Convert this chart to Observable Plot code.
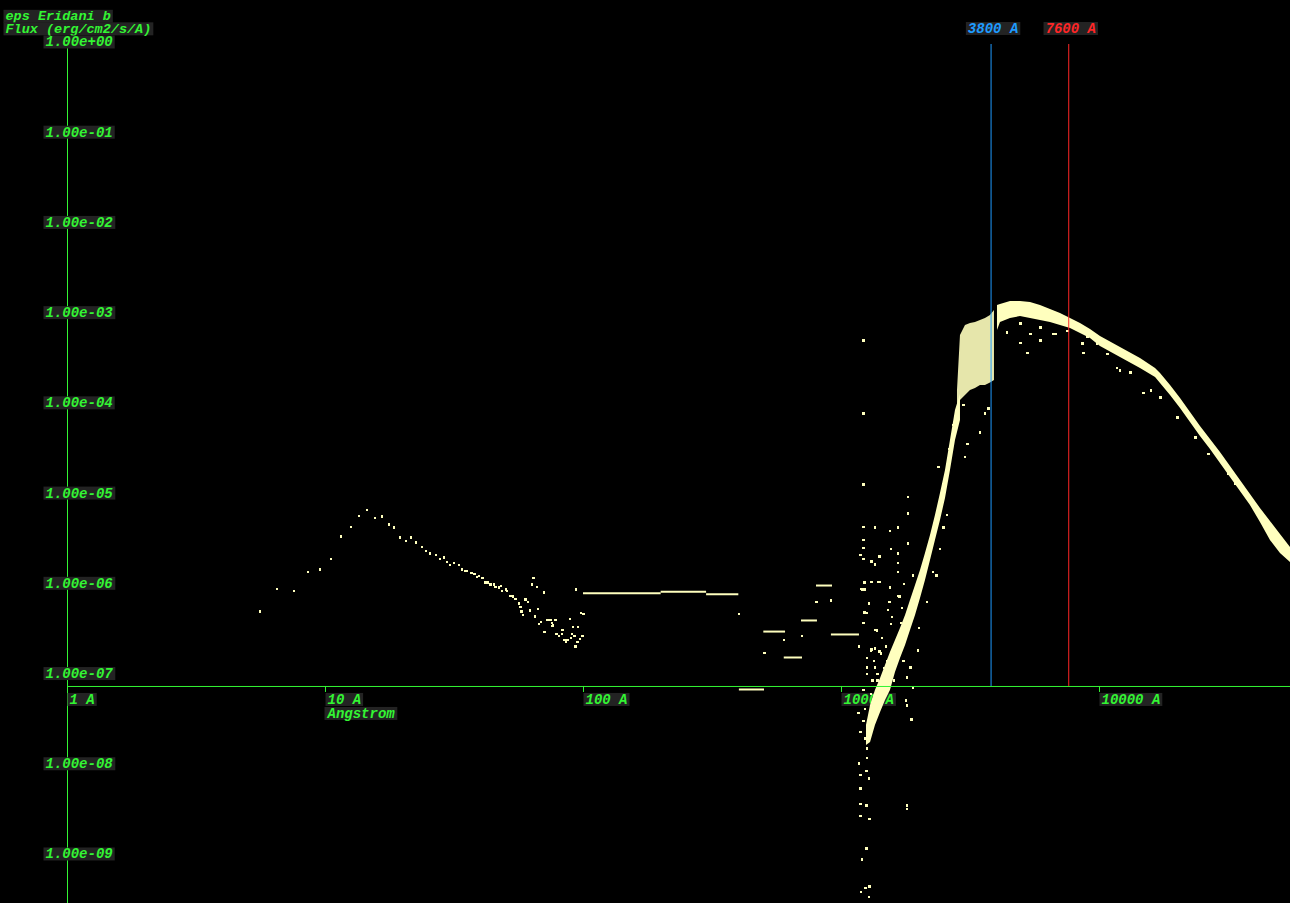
<!DOCTYPE html>
<html>
<head>
<meta charset="utf-8">
<script src="https://cdn.jsdelivr.net/npm/d3@7"></script>
<script src="https://cdn.jsdelivr.net/npm/@observablehq/plot@0.6"></script>
<style>
  html, body { margin: 0; padding: 0; background: #000; overflow: hidden; }
  #chart svg { display: block; }
</style>
</head>
<body>
<div id="chart"></div>
<script>
// ---------- text ----------
const titleLine1 = "eps Eridani b";
const titleLine2 = "Flux (erg/cm2/s/A)";
const xAxisTitle = "Angstrom";
const yTickValues = [1, 1e-1, 1e-2, 1e-3, 1e-4, 1e-5, 1e-6, 1e-7, 1e-8, 1e-9];
const yTickLabels = ["1.00e+00", "1.00e-01", "1.00e-02", "1.00e-03", "1.00e-04", "1.00e-05", "1.00e-06", "1.00e-07", "1.00e-08", "1.00e-09"];
const xTickValues = [1, 10, 100, 1000, 10000];
const xTickLabels = ["1 A", "10 A", "100 A", "1000 A", "10000 A"];
const markerWaves = [3800, 7600];
const markerLabels = ["3800 A", "7600 A"];
const xAxisFlux = 6.92e-8;      // flux level where the wavelength axis crosses

// ---------- data: [wavelength (A), flux (erg/cm2/s/A)] ----------
const euvPoints = [
  [5.55, 4.69e-7], [6.51, 8.43e-7], [7.52, 8.01e-7], [8.52, 1.27e-6], [9.56, 1.37e-6],
  [10.5, 1.81e-6], [11.5, 3.18e-6], [12.6, 4.10e-6], [13.5, 5.43e-6], [14.5, 6.18e-6],
  [15.6, 5.16e-6], [16.6, 5.30e-6], [17.6, 4.32e-6], [18.5, 4.00e-6], [19.5, 3.10e-6],
  [20.6, 2.87e-6], [21.5, 3.10e-6], [22.5, 2.73e-6], [23.6, 2.46e-6], [24.6, 2.22e-6],
  [25.5, 2.06e-6], [26.7, 1.96e-6], [27.7, 1.81e-6], [28.7, 1.86e-6], [29.7, 1.64e-6],
  [30.5, 1.52e-6], [31.6, 1.60e-6], [32.8, 1.52e-6], [33.7, 1.37e-6], [34.6, 1.33e-6],
  [35.5, 1.33e-6], [36.8, 1.24e-6], [37.8, 1.21e-6], [38.8, 1.12e-6], [39.5, 1.15e-6],
  [40.6, 1.09e-6], [41.7, 9.83e-7], [42.8, 9.83e-7], [43.6, 9.34e-7], [44.8, 9.34e-7],
  [45.6, 8.87e-7], [46.9, 8.65e-7], [47.7, 9.10e-7], [48.5, 7.82e-7], [49.9, 8.22e-7],
  [50.7, 8.01e-7], [51.7, 7.05e-7], [52.6, 7.05e-7], [53.5, 6.88e-7], [54.5, 6.53e-7],
  [56.0, 5.75e-7], [57.0, 5.32e-7], [57.5, 4.69e-7], [58.5, 4.24e-7], [59.6, 6.37e-7],
  [60.7, 6.05e-7], [61.8, 4.81e-7], [62.9, 9.34e-7], [64.0, 1.09e-6], [64.6, 4.13e-7],
  [65.8, 8.87e-7], [66.9, 5.06e-7], [67.5, 3.37e-7], [68.7, 3.63e-7], [70.0, 7.62e-7],
  [70.6, 2.81e-7], [71.9, 3.73e-7], [73.2, 3.73e-7], [74.5, 3.73e-7], [75.8, 3.54e-7],
  [75.2, 3.20e-7], [76.5, 3.28e-7], [77.9, 3.82e-7], [78.6, 2.61e-7], [80.7, 2.48e-7],
  [82.2, 2.61e-7], [82.9, 2.89e-7], [84.4, 2.24e-7], [85.9, 2.18e-7], [86.7, 2.24e-7],
  [88.3, 3.92e-7], [89.1, 2.41e-7], [89.9, 2.61e-7], [90.7, 3.12e-7], [92.3, 2.48e-7],
  [93.1, 1.92e-7], [93.9, 8.22e-7], [94.8, 2.18e-7], [95.6, 3.12e-7], [97.3, 2.30e-7],
  [98.2, 4.46e-7], [99.1, 2.48e-7], [100, 4.35e-7],
  [402, 4.35e-7], [503, 1.61e-7], [601, 2.24e-7], [700, 2.48e-7], [800, 6.05e-7], [914, 6.21e-7]
];

// binned spectrum: [wavelength from, wavelength to, flux]
const binnedSegments = [
  [100, 200, 7.48e-7], [200, 300, 7.75e-7], [300, 400, 7.29e-7], [402, 503, 6.41e-8],
  [500, 607, 2.81e-7], [600, 706, 1.45e-7], [700, 807, 3.73e-7], [800, 923, 9.10e-7],
  [914, 1174, 2.61e-7]
];

const fuvPoints = [
  [1217, 4.73e-4], [1217, 7.34e-5], [1217, 1.199e-5], [1217, 4.10e-6], [1343, 4.00e-6],
  [1548, 3.70e-6], [1649, 4.00e-6], [1818, 8.82e-6], [1818, 5.72e-6], [1818, 2.66e-6],
  [1217, 2.94e-6], [1217, 2.40e-6], [1562, 2.34e-6], [1185, 1.96e-6], [1217, 1.81e-6],
  [1307, 1.68e-6], [1343, 1.556e-6], [1404, 1.908e-6], [1663, 2.06e-6], [1663, 1.637e-6],
  [1649, 1.301e-6], [1901, 1.175e-6], [1228, 9.83e-7], [1307, 1.008e-6], [1404, 1.008e-6],
  [1195, 8.43e-7], [1228, 8.22e-7], [1548, 8.65e-7], [1663, 7.05e-7], [1273, 5.75e-7],
  [1535, 6.05e-7], [1723, 5.19e-7], [1228, 4.57e-7], [1521, 4.93e-7], [1250, 4.46e-7],
  [1217, 3.54e-7], [1562, 3.37e-7], [1708, 3.54e-7], [1367, 2.887e-7], [1174, 1.919e-7],
  [1307, 1.778e-7], [1343, 1.824e-7], [1404, 1.689e-7], [1494, 1.919e-7], [1649, 1.969e-7],
  [1206, 8.22e-7], [1391, 1.008e-6], [1678, 6.88e-7], [1261, 1.449e-7], [1343, 1.123e-7],
  [1261, 9.63e-8], [1379, 8.06e-8], [1296, 5.78e-8], [1217, 6.25e-8], [1771, 4.84e-8],
  [1802, 4.26e-8], [1164, 3.56e-8], [1217, 2.90e-8], [1185, 2.14e-8], [1239, 1.834e-8],
  [1261, 1.421e-8], [1261, 1.129e-8], [1174, 9.69e-9], [1250, 8.10e-9], [1185, 7.14e-9],
  [1273, 6.61e-9], [1185, 5.12e-9], [1185, 3.49e-9], [1250, 3.32e-9], [1185, 2.51e-9],
  [1284, 2.38e-9], [1802, 3.32e-9], [1802, 3.07e-9], [1868, 2.98e-8], [1250, 1.107e-9],
  [1206, 8.36e-10], [1239, 4.09e-10], [1284, 4.20e-10], [1195, 3.69e-10], [1273, 3.25e-10],
  [1296, 1.733e-7], [1417, 1.605e-7], [1508, 1.342e-7], [1591, 1.123e-7], [1331, 1.342e-7],
  [1261, 1.123e-7], [1379, 9.63e-8], [1508, 8.70e-8], [1591, 8.06e-8], [1417, 6.74e-8],
  [1319, 8.06e-8], [1802, 8.70e-8], [1851, 1.123e-7], [1739, 1.342e-7], [1901, 6.74e-8],
  [1971, 1.733e-7], [2377, 1.897e-5], [2485, 4.00e-6], [2335, 1.175e-6],
  [2971, 9.01e-5], [3079, 3.41e-5], [3024, 2.39e-5], [3614, 7.34e-5], [3457, 4.52e-5], [3714, 8.34e-5],
  [1230, 3.9e-8], [1280, 2.2e-8], [1330, 4.6e-8], [1350, 2.9e-7], [1440, 2.4e-7],
  [1460, 1.1e-7], [1570, 4.1e-7], [1600, 1.5e-7], [1750, 9.5e-7], [1700, 2.6e-7],
  [2000, 3.1e-7], [2150, 6.0e-7], [2260, 1.3e-6], [2400, 2.3e-6], [2560, 5.5e-6],
  [2600, 3.0e-5], [2700, 5.5e-5], [2480, 1.2e-5]
];

// dense photospheric band: [wavelength, flux low, flux high]
const riseBand = [
  [1250, 1.534e-8, 2.555e-8], [1296, 1.656e-8, 4.26e-8], [1354, 2.555e-8, 6.25e-8],
  [1417, 3.56e-8, 8.49e-8], [1481, 4.84e-8, 1.181e-7], [1548, 6.25e-8, 1.647e-7],
  [1619, 9.88e-8, 2.237e-7], [1693, 1.413e-7, 3.04e-7], [1771, 1.969e-7, 4.23e-7],
  [1851, 2.887e-7, 6.21e-7], [1936, 4.23e-7, 9.10e-7], [2024, 6.53e-7, 1.335e-6],
  [2116, 1.034e-6, 2.06e-6], [2213, 1.722e-6, 3.26e-6], [2313, 2.87e-6, 5.43e-6],
  [2419, 4.78e-6, 9.53e-6], [2530, 8.39e-6, 1.713e-5], [2645, 1.713e-5, 3.68e-5],
  [2766, 3.68e-5, 7.92e-5], [2892, 6.14e-5, 1.20e-4]
];
const nearUvCloud = [
  [2816, 4.75e-5, 1.32e-4], [2892, 1.023e-4, 5.37e-4], [3024, 1.162e-4, 6.94e-4],
  [3162, 1.32e-4, 7.30e-4], [3306, 1.389e-4, 7.49e-4], [3457, 1.50e-4, 7.88e-4],
  [3614, 1.50e-4, 8.29e-4], [3780, 1.60e-4, 8.95e-4], [3917, 1.70e-4, 1.017e-3]
];
const peakBand = [
  [4024, 6.10e-4, 1.156e-3], [4133, 7.49e-4, 1.185e-3], [4519, 8.29e-4, 1.279e-3],
  [4941, 8.73e-4, 1.279e-3], [5403, 8.29e-4, 1.247e-3], [5906, 7.88e-4, 1.156e-3],
  [6458, 7.49e-4, 1.043e-3], [7061, 6.94e-4, 9.42e-4], [7721, 6.42e-4, 8.29e-4],
  [8441, 5.65e-4, 7.30e-4], [9229, 4.98e-4, 6.26e-4], [10090, 4.06e-4, 5.24e-4],
  [12060, 3.06e-4, 3.96e-4], [14420, 2.31e-4, 2.99e-4], [16490, 1.84e-4, 2.31e-4],
  [17240, 1.578e-4, 2.04e-4], [18850, 1.162e-4, 1.50e-4], [20610, 8.34e-5, 1.076e-4],
  [22530, 5.83e-5, 7.53e-5], [24630, 4.08e-5, 5.27e-5], [26930, 2.93e-5, 3.78e-5],
  [29440, 2.05e-5, 2.71e-5], [32190, 1.433e-5, 1.897e-5], [35190, 1.003e-5, 1.327e-5],
  [38480, 7.01e-6, 9.29e-6], [42070, 4.55e-6, 6.50e-6], [46000, 2.87e-6, 4.66e-6],
  [50290, 2.06e-6, 3.35e-6], [55000, 1.637e-6, 2.40e-6]
];
const peakScatter = [
  [4399, 5.80e-4], [4941, 4.49e-4], [5259, 3.48e-4], [5906, 4.73e-4], [6632, 5.65e-4],
  [8670, 3.48e-4], [8594, 4.38e-4], [12060, 2.20e-4], [10360, 4.73e-4], [10740, 3.39e-4],
  [13190, 2.09e-4], [14810, 1.254e-4], [15770, 1.32e-4], [17240, 1.104e-4], [20060, 6.63e-5],
  [23560, 3.98e-5], [26460, 2.64e-5], [31620, 1.587e-5], [33660, 1.23e-5], [37460, 8.60e-6],
  [4941, 7.30e-4], [5403, 5.65e-4], [5906, 6.59e-4], [6752, 5.65e-4], [7516, 6.10e-4],
  [8985, 5.11e-4], [9822, 4.38e-4], [11740, 2.37e-4]
];

// ---------- style ----------
const green = "#33f533";
const labelBg = "#232323";
const specColor = "#ffffbe";
const markerColors = ["#1e9bff", "#ff2626"];
const font = {fontFamily: "'Liberation Mono', 'DejaVu Sans Mono', monospace", fontSize: 14, fontStyle: "italic", fontWeight: "bold"};
const titleFont = {...font, fontSize: 13.5};

const dotOpts = {x: d => d[0], y: d => d[1], r: 1.15, symbol: "square", fill: specColor, stroke: "none", shapeRendering: "crispEdges"};

const chart = Plot.plot({
  width: 1290,
  height: 903,
  margin: 0,
  style: {background: "#000"},
  x: {type: "log", domain: [1, 55000], range: [67, 1290], axis: null},
  y: {type: "log", domain: [1, 1e-9], range: [40, 852], axis: null},
  marks: [
    // vertical flux axis line
    Plot.ruleX([1], {stroke: green, insetTop: 46}),
    // labels (drawn under data)
    Plot.text([titleLine1], {text: d => d, frameAnchor: "top-left", dx: 5, dy: 15.5, textAnchor: "start", lineAnchor: "middle", fill: green, ...titleFont}),
    Plot.text([titleLine2], {text: d => d, frameAnchor: "top-left", dx: 5, dy: 28, textAnchor: "start", lineAnchor: "middle", fill: green, ...titleFont}),
    Plot.text(yTickValues, {x: 1, y: d => d, text: (d, i) => yTickLabels[i], textAnchor: "start", lineAnchor: "middle", dx: -22, dy: 1.5, fill: green, ...font}),
    Plot.text(xTickValues, {x: d => d, y: xAxisFlux, text: (d, i) => xTickLabels[i], textAnchor: "start", lineAnchor: "middle", dx: 2, dy: 13, fill: green, ...font}),
    Plot.text([xAxisTitle], {x: 10, y: xAxisFlux, text: d => d, textAnchor: "start", lineAnchor: "middle", dx: 2, dy: 27, fill: green, ...font}),
    Plot.text(markerWaves, {x: d => d, frameAnchor: "top", text: (d, i) => markerLabels[i], textAnchor: "middle", lineAnchor: "middle", dx: 2, dy: 28, fill: (d, i) => markerColors[i], ...font}),
    // spectrum
    Plot.ruleY(binnedSegments, {x1: d => d[0], x2: d => d[1], y: d => d[2], stroke: specColor, strokeWidth: 2}),
    Plot.dot(euvPoints, dotOpts),
    Plot.dot(fuvPoints, dotOpts),
    Plot.areaY(riseBand, {x: d => d[0], y1: d => d[1], y2: d => d[2], fill: specColor, curve: "linear"}),
    Plot.areaY(nearUvCloud, {x: d => d[0], y1: d => d[1], y2: d => d[2], fill: specColor, fillOpacity: 0.9, curve: "linear"}),
    Plot.areaY(peakBand, {x: d => d[0], y1: d => d[1], y2: d => d[2], fill: specColor, curve: "linear"}),
    Plot.dot(peakScatter, dotOpts),
    // wavelength axis
    Plot.ruleY([xAxisFlux], {x1: 1, x2: 55000, stroke: green}),
    Plot.ruleX(xTickValues, {x: d => d, y1: xAxisFlux, y2: xAxisFlux, insetBottom: -6, stroke: green}),
    // band markers
    Plot.ruleX(markerWaves, {x: d => d, y1: 1, y2: xAxisFlux, insetTop: 4, stroke: (d, i) => markerColors[i]})
  ]
});

document.getElementById("chart").appendChild(chart);

// dark boxes behind every label
const ns = "http://www.w3.org/2000/svg";
chart.querySelectorAll("text").forEach(t => {
  const b = t.getBBox();
  if (!b.width) return;
  const h = 13;
  const r = document.createElementNS(ns, "rect");
  r.setAttribute("x", b.x - 2);
  r.setAttribute("y", b.y + b.height / 2 - h / 2 - 0.5);
  r.setAttribute("width", b.width + 4);
  r.setAttribute("height", h);
  r.setAttribute("fill", labelBg);
  r.setAttribute("stroke", "none");
  const tr = t.getAttribute("transform");
  if (tr) r.setAttribute("transform", tr);
  t.parentNode.insertBefore(r, t);
});
</script>
</body>
</html>
